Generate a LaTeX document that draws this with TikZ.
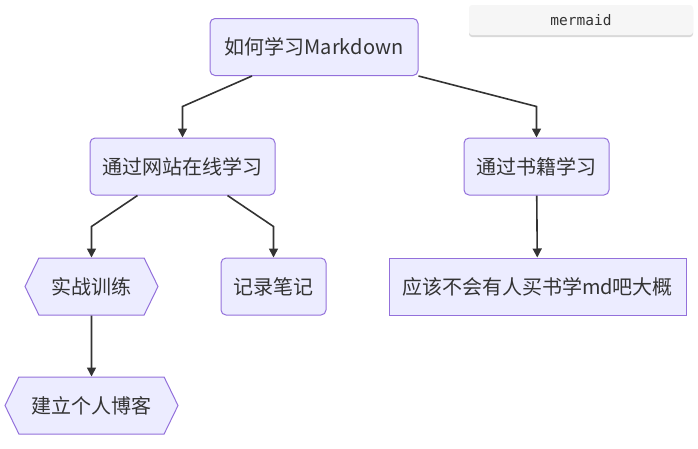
\documentclass[tikz,border=0pt]{standalone}
\usepackage{fontspec}
\setmainfont{Noto Sans CJK SC}
\newfontfamily\monofont{DejaVu Sans Mono}
\usepackage{tikz}
\usetikzlibrary{arrows.meta,positioning,calc,shapes.symbols}
\definecolor{mfill}{HTML}{ECECFF}
\definecolor{mline}{HTML}{9370DB}
\definecolor{mtext}{HTML}{333333}
\definecolor{mtag}{HTML}{F6F6F6}

\begin{document}
\begin{tikzpicture}[x=1pt,y=-1pt,
  bx/.style={draw=mline,fill=mfill,line width=1pt,text=mtext,
    font=\fontsize{20}{22}\selectfont,minimum height=57pt,inner xsep=4pt},
  rbx/.style={bx,rounded corners=5pt},
  hx/.style={bx,shape=signal,signal to=west and east,signal pointer angle=128},
  ln/.style={draw=mtext,line width=1.6pt,-{Triangle[length=9pt,width=9pt]}}
]
\useasboundingbox (0,0) rectangle (698,448);
% ---- mermaid tag ----
\fill[gray!30,rounded corners=3pt] (469,7) rectangle (693,37);
\node[fill=mtag,rounded corners=3pt,minimum width=224pt,minimum height=30pt,
  text=mtext,font=\monofont\fontsize{14.5}{16}\selectfont] (tag) at (581,20) {mermaid};
% ---- nodes ----
\node[rbx,minimum width=208pt] (root) at (314,47)    {如何学习Markdown};
\node[rbx,minimum width=185pt] (web)  at (182.5,166.5) {通过网站在线学习};
\node[rbx,minimum width=145pt] (book) at (536.5,166.5) {通过书籍学习};
\node[hx,minimum width=133pt]  (prac) at (91.5,286.5)  {实战训练};
\node[rbx,minimum width=105pt] (note) at (273.5,286.5) {记录笔记};
\node[bx,minimum width=297pt]  (buy)  at (537.5,286.5) {应该不会有人买书学md吧大概};
\node[hx,minimum width=173pt]  (blog) at (91.5,405.5)  {建立个人博客};
% ---- edges ----
\draw[ln] ([xshift=-62pt]root.south) -- ([yshift=31pt]web.north) -- (web.north);
\draw[ln] (root.south east) -- ([yshift=31pt]book.north) -- (book.north);
\draw[ln] ([xshift=-45pt]web.south) -- ([yshift=31pt]prac.north) -- (prac.north);
\draw[ln] ([xshift=45pt]web.south) -- ([yshift=31pt]note.north) -- (note.north);
\draw[ln] (book) -- (buy);
\draw[ln] (prac) -- (blog);
\end{tikzpicture}
\end{document}
